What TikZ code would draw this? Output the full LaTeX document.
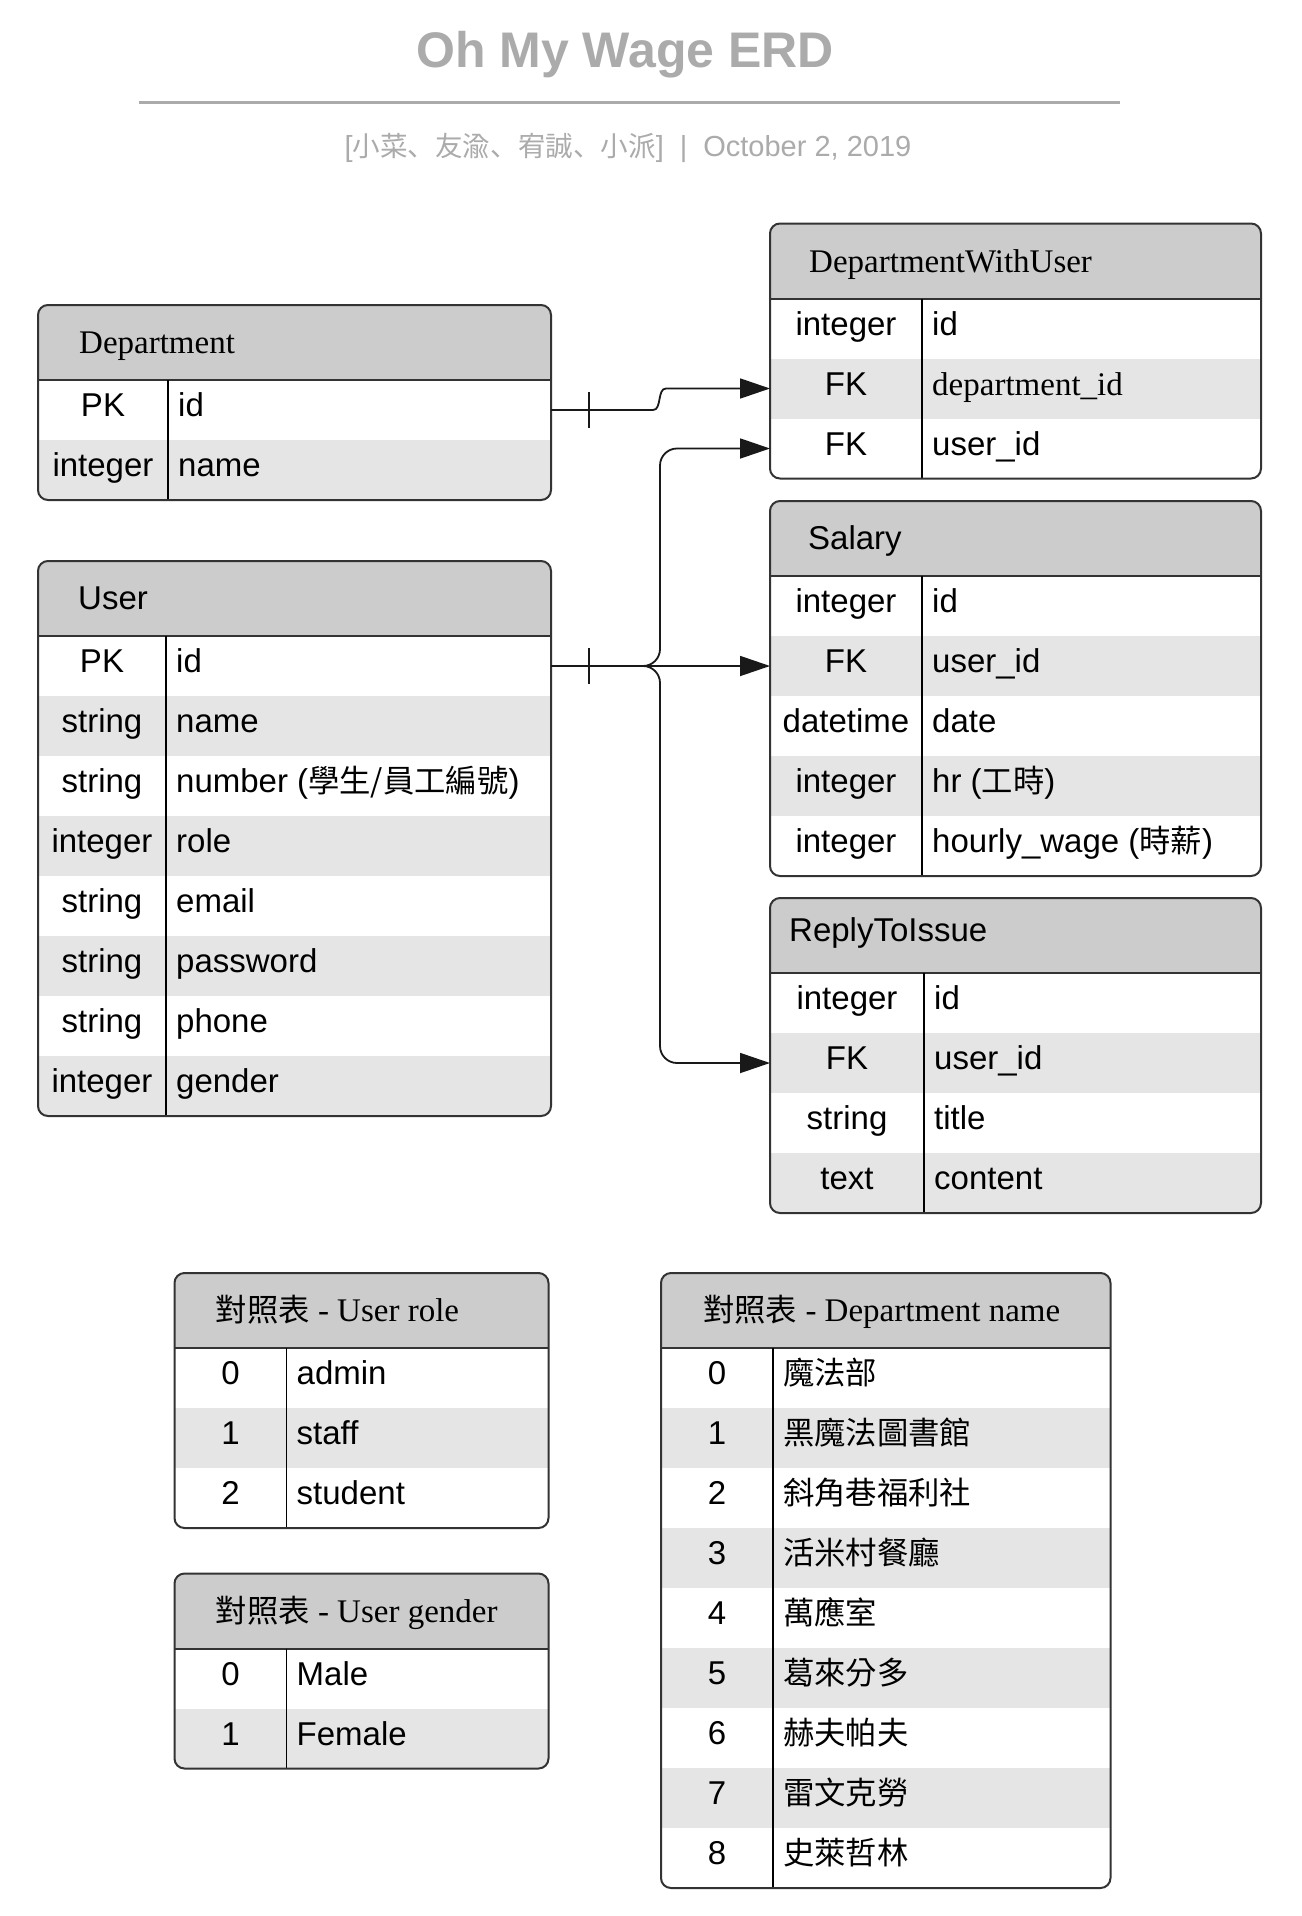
\documentclass[tikz,border=0pt]{standalone}
\usepackage{fontspec}
\setmainfont{Liberation Serif}
\setsansfont{Liberation Sans}
\newfontfamily\cjk[Scale=0.95]{Noto Sans CJK TC}
\newfontfamily\cjksub[Scale=0.95]{Noto Sans CJK JP}
\usetikzlibrary{arrows.meta,calc}
\definecolor{hdrgray}{HTML}{CCCCCC}
\definecolor{rowgray}{HTML}{E5E5E5}
\definecolor{titlegray}{HTML}{ABABAB}
\definecolor{boxline}{HTML}{333333}
\newcommand\fsz{\fontsize{33}{40}\selectfont}
\tikzset{
  rowcell/.style={rectangle, draw=none, inner sep=0pt, outer sep=0pt, minimum height=60pt},
  celltxt/.style={inner sep=0pt, font=\sffamily\fsz, text=black},
  hdrtxt/.style={inner sep=0pt, anchor=base west, text=black},
  conn/.style={draw=black!90, line width=1.8pt},
  arrowend/.style={-{Triangle[length=30pt,width=20pt]}},
  tblbox/.style={draw=boxline, line width=2pt, rounded corners=10pt},
}
% #1 name #2 x1 #3 x2 #4 xdiv #5 ytop #6 header #7 indent #8 rows
\newcommand\tblbegin[8]{%
  \def\tn{#1}\def\tx{#2}\def\tX{#3}\def\td{#4}\def\ty{#5}%
  \pgfmathsetmacro\tb{#5+75+60*#8}%
  \pgfmathsetmacro\tw{#3-#2}%
  \pgfmathsetmacro\tmx{(#2+#3)/2}%
  \pgfmathsetmacro\tcx{(#2+#4)/2}%
  \begin{scope}
  \clip[rounded corners=10pt] (\tx,\ty) rectangle (\tX,\tb);
  \node[rowcell, fill=hdrgray, minimum width=\tw pt, minimum height=75pt] (#1-h) at (\tmx,\ty+37.5) {};
  \node[hdrtxt] (#1-ht) at (\tx+#7,\ty+48.5) {#6};
}
\newcommand\erow[3]{%
  \pgfmathsetmacro\rc{\ty+75+60*(#1-1)+30}%
  \ifodd#1\relax\def\rf{white}\else\def\rf{rowgray}\fi
  \node[rowcell, fill=\rf, minimum width=\tw pt] (\tn-r#1) at (\tmx,\rc) {};
  \node[celltxt, anchor=base] (\tn-t#1) at (\tcx,\rc+6.5) {#2};
  \node[celltxt, anchor=base west] (\tn-f#1) at (\td+10,\rc+6.5) {#3};
}
\newcommand\tblend{%
  \end{scope}
  \draw[boxline, line width=2pt] (\tx,\ty+75) -- (\tX,\ty+75);
  \draw[black, line width=1.5pt] (\td,\ty+75) -- (\td,\tb);
  \draw[tblbox] (\tx,\ty) rectangle (\tX,\tb);
}
\begin{document}
\begin{tikzpicture}[x=1pt,y=-1pt]
\fill[white] (0,0) rectangle (1301,1916);
\useasboundingbox (0,0) rectangle (1301,1916);

\node[font=\sffamily\bfseries\fontsize{50}{60}\selectfont, text=titlegray, anchor=base, inner sep=0pt] (title) at (625,68) {Oh My Wage ERD};
\draw[titlegray, line width=3.5pt] (139,102.5) -- (1120,102.5);
\node[font=\sffamily\fontsize{29}{35}\selectfont, text=titlegray, anchor=base, inner sep=0pt] (sub) at (628,157) {[{\cjksub 小菜、友渝、宥誠、小派}]\hspace{16pt}|\hspace{16pt}October 2, 2019};

\tblbegin{dep}{38}{551}{168}{305}{\rmfamily\fsz Department}{41}{2}
\erow{1}{PK}{id}
\erow{2}{integer}{name}
\tblend

\tblbegin{dwu}{770}{1261}{922}{223.5}{\rmfamily\fsz DepartmentWithUser}{39}{3}
\erow{1}{integer}{id}
\erow{2}{FK}{\rmfamily department\_id}
\erow{3}{FK}{user\_id}
\tblend

\tblbegin{usr}{38}{551}{166}{561}{\sffamily\fsz User}{40}{8}
\erow{1}{PK}{id}
\erow{2}{string}{name}
\erow{3}{string}{number ({\cjk 學生/員工編號})}
\erow{4}{integer}{role}
\erow{5}{string}{email}
\erow{6}{string}{password}
\erow{7}{string}{phone}
\erow{8}{integer}{gender}
\tblend

\tblbegin{sal}{770}{1261}{922}{501}{\sffamily\fsz Salary}{38}{5}
\erow{1}{integer}{id}
\erow{2}{FK}{user\_id}
\erow{3}{datetime}{date}
\erow{4}{integer}{hr ({\cjk 工時})}
\erow{5}{integer}{hourly\_wage ({\cjk 時薪})}
\tblend

\tblbegin{rep}{770}{1261}{924}{898}{\sffamily\fsz\raisebox{5pt}{ReplyToIssue}}{19}{4}
\erow{1}{integer}{id}
\erow{2}{FK}{user\_id}
\erow{3}{string}{title}
\erow{4}{text}{content}
\tblend

\tblbegin{role}{174.5}{548.5}{286.5}{1273}{\rmfamily\fsz{\cjk 對照表} - User role}{41}{3}
\erow{1}{0}{admin}
\erow{2}{1}{staff}
\erow{3}{2}{student}
\tblend

\tblbegin{gen}{174.5}{548.5}{286.5}{1573.5}{\rmfamily\fsz{\cjk 對照表} - User gender}{41}{2}
\erow{1}{0}{Male}
\erow{2}{1}{Female}
\tblend

\tblbegin{dname}{661}{1110.5}{773}{1273}{\rmfamily\fsz{\cjk 對照表} - Department name}{42}{9}
\erow{1}{0}{\cjk 魔法部}
\erow{2}{1}{\cjk 黑魔法圖書館}
\erow{3}{2}{\cjk 斜角巷福利社}
\erow{4}{3}{\cjk 活米村餐廳}
\erow{5}{4}{\cjk 萬應室}
\erow{6}{5}{\cjk 葛來分多}
\erow{7}{6}{\cjk 赫夫帕夫}
\erow{8}{7}{\cjk 雷文克勞}
\erow{9}{8}{\cjk 史萊哲林}
\tblend

% connectors
\coordinate (dj1) at ($(dep-r1.east)+(102,0)$);
\coordinate (dj2) at ($(dwu-r2.west)+(-104,0)$);
\draw[conn, arrowend] (dep-r1.east) -- (dj1) .. controls ($(dj1)+(9,0)$) and ($(dj2)+(-9,0)$) .. (dj2) -- (dwu-r2.west);
\draw[conn] ($(dep-r1.east)+(38,-18)$) -- ($(dep-r1.east)+(38,18)$);

\coordinate (ux) at (660,0);
\draw[conn, arrowend] (usr-r1.east) -- (sal-r2.west);
\draw[conn, arrowend, rounded corners=17pt] (usr-r1.east) -- (usr-r1.east -| ux) -- (dwu-r3.west -| ux) -- (dwu-r3.west);
\draw[conn, arrowend, rounded corners=17pt] (usr-r1.east) -- (usr-r1.east -| ux) -- (rep-r2.west -| ux) -- (rep-r2.west);
\draw[conn] ($(usr-r1.east)+(38,-18)$) -- ($(usr-r1.east)+(38,18)$);
\end{tikzpicture}
\end{document}
